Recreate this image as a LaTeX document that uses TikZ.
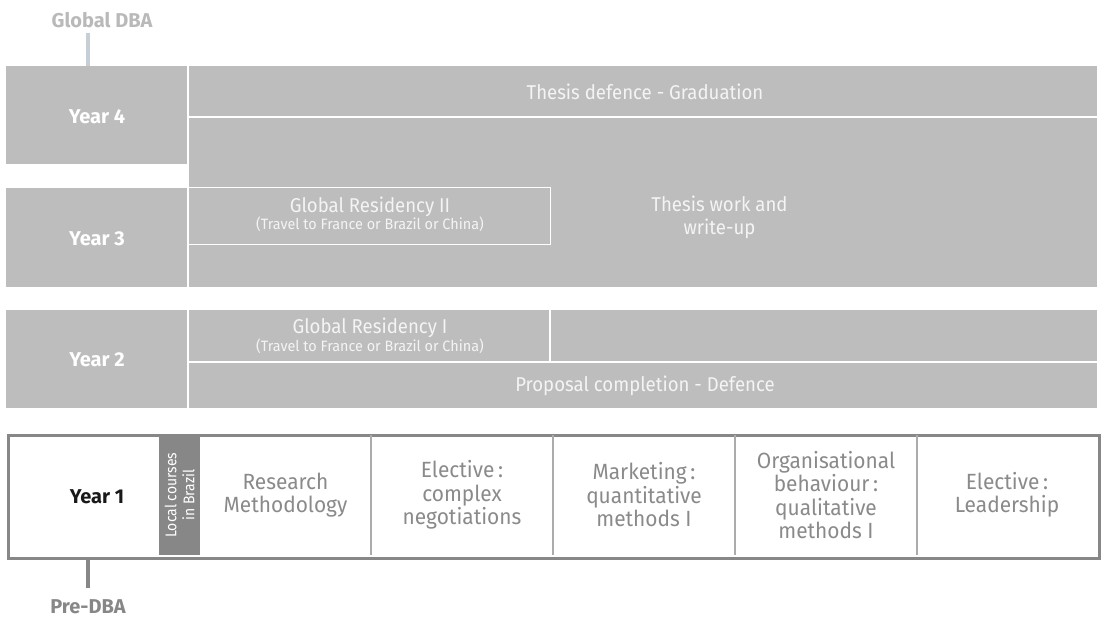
\documentclass[tikz,border=0pt]{standalone}
\usepackage{fontspec}
\setmainfont{Fira Sans}
\newfontfamily\whitefont[FakeStretch=0.93]{Fira Sans}
\newfontfamily\smallfont[FakeStretch=0.96]{Fira Sans}
\newfontfamily\cellfont[FakeStretch=0.95]{Fira Sans}
\newfontfamily\barfont[FakeStretch=0.9]{Fira Sans}
\definecolor{boxgray}{HTML}{BDBDBD}
\definecolor{darkgray}{HTML}{878787}
\definecolor{divgray}{HTML}{ABABAB}
\definecolor{celltext}{HTML}{8A8A8A}
\definecolor{dbaline}{HTML}{C7CFD6}
\definecolor{dbatext}{HTML}{B9B9B9}
\definecolor{lighttext}{HTML}{F4F4F4}
\begin{document}
\begin{tikzpicture}[x=1pt,y=-1pt,
  graycell/.style={fill=boxgray, draw=none, inner sep=0pt, outer sep=0pt, anchor=north west},
  yearlbl/.style={inner sep=0pt, font=\bfseries\fontsize{20}{22}\selectfont, text=white},
  whitetxt/.style={inner sep=0pt, text=lighttext, align=center, font=\whitefont\fontsize{20}{23}\selectfont},
  smalltxt/.style={inner sep=0pt, text=lighttext, align=center, font=\smallfont\fontsize{15}{16}\selectfont},
  celltxt/.style={inner sep=0pt, text=celltext, align=center, font=\cellfont\fontsize{22}{23.5}\selectfont},
  sepline/.style={draw=white, line width=1.5pt},
  divline/.style={draw=divgray, line width=1.5pt},
  ruleline/.style={line width=3.5pt}
]
\useasboundingbox (0,0) rectangle (1105,617);

% ---------- Year 4 / Year 3 ----------
\node[graycell, minimum width=181pt, minimum height=98pt] (y4) at (6,66) {};
\node[yearlbl] (y4t) at (97,117) {Year 4};
\node[graycell, minimum width=181pt, minimum height=99pt] (y3) at (6,188) {};
\node[yearlbl] (y3t) at (97,238.5) {Year 3};
\node[graycell, minimum width=908pt, minimum height=221pt] (r43) at (189,66) {};
\draw[sepline] (r43.west |- 0,117) -- (r43.east |- 0,117);
\node[whitetxt] (tdg) at (645,92) {Thesis defence - Graduation};
\node[draw=white, line width=1.2pt, inner sep=0pt, outer sep=0pt, anchor=north west,
      minimum width=362pt, minimum height=57pt] (gr2) at (188.5,187.5) {};
\node[whitetxt] (gr2a) at (370,207) {Global Residency II};
\node[smalltxt] (gr2b) at (370,224.5) {(Travel to France or Brazil or China)};
\node[whitetxt] (tw) at (719.5,217) {Thesis work and\\write-up};

% ---------- Year 2 ----------
\node[graycell, minimum width=181pt, minimum height=98pt] (y2) at (6,310) {};
\node[yearlbl] (y2t) at (97,360) {Year 2};
\node[graycell, minimum width=908pt, minimum height=98pt] (r2) at (189,310) {};
\draw[sepline] (r2.west |- 0,362) -- (r2.east |- 0,362);
\draw[sepline] (550,310) -- (550,362);
\node[whitetxt] (gr1a) at (370,328) {Global Residency I};
\node[smalltxt] (gr1b) at (370,346.5) {(Travel to France or Brazil or China)};
\node[whitetxt] (pcd) at (645,385.5) {Proposal completion - Defence};

% ---------- Year 1 ----------
\node[draw=darkgray, line width=3pt, fill=white, inner sep=0pt, anchor=north west,
      minimum width=1091pt, minimum height=123pt] (y1box) at (6.5,433.5) {};
\node[yearlbl, text=black!90] (y1) at (97,497) {Year 1};
\node[fill=darkgray, inner sep=0pt, anchor=north west, minimum width=41pt, minimum height=120pt] (bar) at (159,435) {};
\node[rotate=90, inner sep=0pt, text=white, align=center, font=\barfont\fontsize{15.5}{18}\selectfont] (bart) at (bar.center) {Local courses\\in Brazil};
\draw[divline] (371,435) -- (371,555);
\draw[divline] (553,435) -- (553,555);
\draw[divline] (735,435) -- (735,555);
\draw[divline] (917,435) -- (917,555);
\node[celltxt] (c1) at (285.5,495) {Research\\Methodology};
\node[celltxt] (c2) at (462,495) {Elective\,:\\complex\\negotiations};
\node[celltxt] (c3) at (644,495) {Marketing\,:\\quantitative\\methods I};
\node[celltxt] (c4) at (826,495) {Organisational\\behaviour\,:\\qualitative\\methods I};
\node[celltxt] (c5) at (1007,495) {Elective\,:\\Leadership};

% ---------- labels and rules ----------
\node[inner sep=0pt, font=\bfseries\fontsize{20}{22}\selectfont, text=dbatext] (gdba) at (102,20) {Global DBA};
\coordinate (gx) at (88,33);
\draw[ruleline, draw=dbaline] (gx) -- (gx |- y4.north);
\node[inner sep=0pt, font=\bfseries\fontsize{20}{22}\selectfont, text=darkgray] (pdba) at (88,607) {Pre-DBA};
\coordinate (px) at (88,588);
\draw[ruleline, draw=darkgray] (y1box.south -| px) -- (px);
\end{tikzpicture}
\end{document}
